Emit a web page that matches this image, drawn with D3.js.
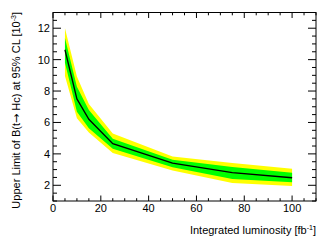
<!DOCTYPE html>
<html>
<head>
<meta charset="utf-8">
<script src="https://cdn.jsdelivr.net/npm/d3@7"></script>
<style>
body{margin:0;background:#fff;}
text{font-family:"Liberation Sans",Arial,sans-serif;}
</style>
</head>
<body>
<div id="viz-container"></div>
<script>
var lumi = [5, 10, 15, 25, 50, 75, 100];
var median = [10.63, 7.5, 6.2, 4.65, 3.41, 2.8, 2.48];
var up1 = [11.38, 8.28, 6.8, 4.97, 3.62, 3.17, 2.8];
var up2 = [12.0, 8.93, 7.17, 5.3, 3.83, 3.42, 3.05];
var dn1 = [9.8, 6.68, 5.63, 4.33, 3.15, 2.4, 2.2];
var dn2 = [8.95, 6.27, 5.36, 4.05, 2.94, 2.14, 1.95];
var xTicks = [0, 20, 40, 60, 80, 100];
var yTicks = [2, 4, 6, 8, 10, 12];

let svg = d3.select("#viz-container")
  .append("svg")
    .attr("width", 332)
    .attr("height", 240);

let x = d3.scaleLinear().domain([0, 110]).range([53, 316]);
let y = d3.scaleLinear().domain([1, 13]).range([201, 12.5]);

let idx = d3.range(lumi.length);

function band(lo, hi) {
  return d3.area()
    .x(i => x(lumi[i]))
    .y0(i => y(lo[i]))
    .y1(i => y(hi[i]))(idx);
}

svg.append("path").attr("d", band(dn2, up2)).attr("fill", "#ffff00");
svg.append("path").attr("d", band(dn1, up1)).attr("fill", "#00ff00");
svg.append("path")
  .attr("d", d3.line().x(i => x(lumi[i])).y(i => y(median[i]))(idx))
  .attr("fill", "none")
  .attr("stroke", "#000")
  .attr("stroke-width", 1.3);

// frame
svg.append("rect")
  .attr("x", x(0)).attr("y", y(13))
  .attr("width", x(110) - x(0)).attr("height", y(1) - y(13))
  .attr("fill", "none").attr("stroke", "#000").attr("stroke-width", 1);

// ticks inward on all four sides
let xMinor = d3.range(0, 111, 5);
let yMinor = d3.range(1, 13.01, 0.5);
let tk = svg.append("g").attr("stroke", "#000").attr("stroke-width", 1);
xMinor.forEach(v => {
  let len = (v % 20 === 0) ? 5.5 : 2.8;
  tk.append("line").attr("x1", x(v)).attr("x2", x(v)).attr("y1", y(1)).attr("y2", y(1) - len);
  tk.append("line").attr("x1", x(v)).attr("x2", x(v)).attr("y1", y(13)).attr("y2", y(13) + len);
});
yMinor.forEach(v => {
  let len = (Math.abs(v % 2) < 1e-6) ? 8 : 4;
  tk.append("line").attr("x1", x(0)).attr("x2", x(0) + len).attr("y1", y(v)).attr("y2", y(v));
  tk.append("line").attr("x1", x(110)).attr("x2", x(110) - len).attr("y1", y(v)).attr("y2", y(v));
});

svg.selectAll(".xl").data(xTicks).enter()
  .append("text")
  .attr("x", d => x(d))
  .attr("y", 212)
  .attr("text-anchor", "middle")
  .attr("font-size", 11)
  .text(d => d);

svg.selectAll(".yl").data(yTicks).enter()
  .append("text")
  .attr("x", 50)
  .attr("y", d => y(d) + 4)
  .attr("text-anchor", "end")
  .attr("font-size", 11)
  .text(d => d);

let xt = svg.append("text")
  .attr("x", 316)
  .attr("y", 234)
  .attr("text-anchor", "end")
  .attr("font-size", 11);
xt.append("tspan").text("Integrated luminosity [fb");
xt.append("tspan").attr("font-size", 7).attr("dy", -4).text("-1");
xt.append("tspan").attr("dy", 4).text("]");

let yt = svg.append("text")
  .attr("transform", "translate(20,12) rotate(-90)")
  .attr("text-anchor", "end")
  .attr("font-size", 11);
yt.append("tspan").text("Upper Limit of B(t");
yt.append("tspan").style("font-family", "'DejaVu Sans'").text("\u2192");
yt.append("tspan").text(" Hc) at 95% CL [10");
yt.append("tspan").attr("font-size", 7).attr("dy", -4).text("-3");
yt.append("tspan").attr("dy", 4).text("]");
</script>
</body>
</html>
